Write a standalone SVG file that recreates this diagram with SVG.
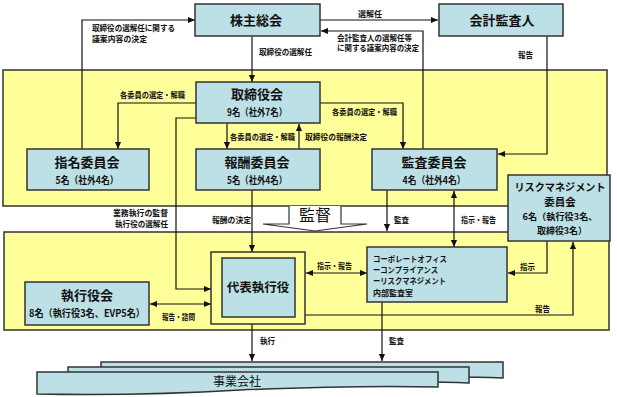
<svg xmlns="http://www.w3.org/2000/svg" width="617" height="397" viewBox="0 0 617 397">
<defs>
<marker id="ah" viewBox="0 0 8 8" refX="8" refY="4" markerWidth="7" markerHeight="7" orient="auto-start-reverse" markerUnits="userSpaceOnUse">
<path d="M0,0.5 L8,4 L0,7.5 Z" fill="#111"/>
</marker>
<style>
.band{fill:#FFFF99;stroke:#333;stroke-width:1.5}
.box{fill:#BCE0E6;stroke:#333;stroke-width:1.5}
.t{font-family:"Noto Sans CJK JP","Noto Sans",sans-serif;font-weight:bold;fill:#111;text-anchor:middle}
.big{font-size:13px}
.mid{font-size:10px}
.lb{font-family:"Noto Sans CJK JP","Noto Sans",sans-serif;font-weight:bold;font-size:8px;fill:#111}
.c{fill:none;stroke:#111;stroke-width:1.2}
.a{marker-end:url(#ah)}
.b{marker-start:url(#ah);marker-end:url(#ah)}
</style>
</defs>
<rect x="0" y="0" width="617" height="397" fill="#fff"/>
<g id="bands">
<rect class="band" x="3" y="70" width="604" height="136"/>
<rect class="band" x="4" y="232" width="605" height="98"/>
</g>
<g id="kantoku">
<path d="M289,206 L289,224 L263,224 L315,231 L367,224 L341,224 L341,206" fill="#fff" stroke="#333" stroke-width="1.2"/>
<text x="315" y="221" font-family="'Noto Sans CJK JP',sans-serif" font-size="16" text-anchor="middle" fill="#111">監督</text>
</g>
<g id="connectors">
<path class="c a" d="M82,149 V20 H195"/>
<path class="c a" d="M252,37 V82"/>
<path class="c a" d="M320,20 H438"/>
<path class="c a" d="M423,149 V31 H321"/>
<path class="c a" d="M547,36 V154 H498"/>
<path class="c a" d="M196,103 H118 V149"/>
<path class="c a" d="M227,123 V149"/>
<path class="c a" d="M299,149 V124"/>
<path class="c a" d="M320,103 H403 V149"/>
<path class="c a" d="M196,118 H176 V289 H211"/>
<path class="c a" d="M252,190 V252"/>
<path class="c a" d="M387,190 V231"/>
<path class="c b" d="M454,191 V247"/>
<path class="c b" d="M150,304 H211"/>
<path class="c b" d="M306,273 H367"/>
<path class="c a" d="M547,241 V273 H508"/>
<path class="c a" d="M305,315 H573 V242"/>
<path class="c a" d="M252,324 V361"/>
<path class="c a" d="M382,302 V361"/>
</g>
<g id="labels">
<text class="lb" x="92" y="31" textLength="83" lengthAdjust="spacingAndGlyphs">取締役の選解任に関する</text>
<text class="lb" x="92" y="42" textLength="55" lengthAdjust="spacingAndGlyphs">議案内容の決定</text>
<text class="lb" x="259" y="55" textLength="53" lengthAdjust="spacingAndGlyphs">取締役の選解任</text>
<text class="lb" x="358" y="17" textLength="24" lengthAdjust="spacingAndGlyphs">選解任</text>
<text class="lb" x="337" y="41" textLength="75" lengthAdjust="spacingAndGlyphs">会計監査人の選解任等</text>
<text class="lb" x="337" y="51" textLength="82" lengthAdjust="spacingAndGlyphs">に関する議案内容の決定</text>
<text class="lb" x="518" y="58" textLength="15" lengthAdjust="spacingAndGlyphs">報告</text>
<text class="lb" x="120" y="98" textLength="65" lengthAdjust="spacingAndGlyphs">各委員の選定・解職</text>
<text class="lb" x="230" y="140" textLength="65" lengthAdjust="spacingAndGlyphs">各委員の選定・解職</text>
<text class="lb" x="305" y="140" textLength="62" lengthAdjust="spacingAndGlyphs">取締役の報酬決定</text>
<text class="lb" x="332" y="115" textLength="65" lengthAdjust="spacingAndGlyphs">各委員の選定・解職</text>
<text class="lb" x="113" y="216" textLength="55" lengthAdjust="spacingAndGlyphs">業務執行の監督</text>
<text class="lb" x="115" y="227" textLength="53" lengthAdjust="spacingAndGlyphs">執行役の選解任</text>
<text class="lb" x="212" y="223" textLength="39" lengthAdjust="spacingAndGlyphs">報酬の決定</text>
<text class="lb" x="394" y="223" textLength="15" lengthAdjust="spacingAndGlyphs">監査</text>
<text class="lb" x="461" y="223" textLength="35" lengthAdjust="spacingAndGlyphs">指示・報告</text>
<text class="lb" x="317" y="269" textLength="35" lengthAdjust="spacingAndGlyphs">指示・報告</text>
<text class="lb" x="520" y="270" textLength="15" lengthAdjust="spacingAndGlyphs">指示</text>
<text class="lb" x="535" y="312" textLength="15" lengthAdjust="spacingAndGlyphs">報告</text>
<text class="lb" x="162" y="320" textLength="33" lengthAdjust="spacingAndGlyphs">報告・諮問</text>
<text class="lb" x="260" y="344" textLength="15" lengthAdjust="spacingAndGlyphs">執行</text>
<text class="lb" x="389" y="344" textLength="15" lengthAdjust="spacingAndGlyphs">監査</text>
</g>
<g id="kabunushi">
<rect class="box" x="195" y="4" width="125" height="32"/>
<text class="t big" x="256" y="25">株主総会</text>
</g>
<g id="kaikei">
<rect class="box" x="439" y="4" width="124" height="32"/>
<text class="t big" x="502" y="25">会計監査人</text>
</g>
<g id="torishimariyakukai">
<rect class="box" x="196" y="82" width="124" height="41"/>
<text class="t big" x="257" y="99">取締役会</text>
<text class="t mid" x="257" y="116" textLength="60" lengthAdjust="spacingAndGlyphs">9名（社外7名）</text>
</g>
<g id="shimei">
<rect class="box" x="27" y="149" width="122" height="41"/>
<text class="t big" x="87" y="167">指名委員会</text>
<text class="t mid" x="87" y="184" textLength="63" lengthAdjust="spacingAndGlyphs">5名（社外4名）</text>
</g>
<g id="hoshu">
<rect class="box" x="196" y="149" width="124" height="41"/>
<text class="t big" x="257" y="167">報酬委員会</text>
<text class="t mid" x="257" y="184" textLength="60" lengthAdjust="spacingAndGlyphs">5名（社外4名）</text>
</g>
<g id="kansa">
<rect class="box" x="372" y="149" width="125" height="41"/>
<text class="t big" x="434" y="167">監査委員会</text>
<text class="t mid" x="434" y="184" textLength="63" lengthAdjust="spacingAndGlyphs">4名（社外4名）</text>
</g>
<g id="risk">
<rect class="box" x="508" y="175" width="102" height="66"/>
<text class="t" font-size="10.5" x="560" y="191" textLength="91" lengthAdjust="spacingAndGlyphs">リスクマネジメント</text>
<text class="t" font-size="10.5" x="560" y="206">委員会</text>
<text class="t" font-size="9" x="560" y="220" textLength="75" lengthAdjust="spacingAndGlyphs">6名（執行役3名、</text>
<text class="t" font-size="9" x="562" y="234" textLength="50" lengthAdjust="spacingAndGlyphs">取締役3名）</text>
</g>
<g id="daihyo">
<rect x="211" y="252" width="94" height="72" fill="#FFFF99" stroke="#333" stroke-width="1.5"/>
<rect class="box" x="222" y="258" width="73" height="59"/>
<text class="t" font-size="12.5" x="258" y="292">代表執行役</text>
</g>
<g id="shikkoyakukai">
<rect class="box" x="25" y="282" width="124" height="43"/>
<text class="t big" x="87" y="300">執行役会</text>
<text class="t mid" x="87" y="317" textLength="116" lengthAdjust="spacingAndGlyphs">8名（執行役3名、EVP5名）</text>
</g>
<g id="corporate">
<rect class="box" x="367" y="247" width="140" height="55"/>
<text class="lb" font-size="8.5" x="373" y="262" textLength="74" lengthAdjust="spacingAndGlyphs">コーポレートオフィス</text>
<text class="lb" font-size="8.5" x="373" y="273" textLength="65" lengthAdjust="spacingAndGlyphs">ーコンプライアンス</text>
<text class="lb" font-size="8.5" x="373" y="284" textLength="73" lengthAdjust="spacingAndGlyphs">ーリスクマネジメント</text>
<text class="lb" font-size="8.5" x="373" y="296">内部監査室</text>
</g>
<g id="jigyo">
<path class="box" d="M101,362 H503 V378 Q420,375 300,382 Q200,388 101,386 Z"/>
<path class="box" d="M68,367 H469 V383 Q390,380 270,387 Q170,392 68,390 Z"/>
<path class="box" d="M37,372 H438 V387 Q360,385 240,390 Q140,396 37,394 Z"/>
<text x="237" y="386" font-family="'Noto Sans CJK JP',sans-serif" font-size="12" text-anchor="middle" fill="#111">事業会社</text>
</g>
</svg>
